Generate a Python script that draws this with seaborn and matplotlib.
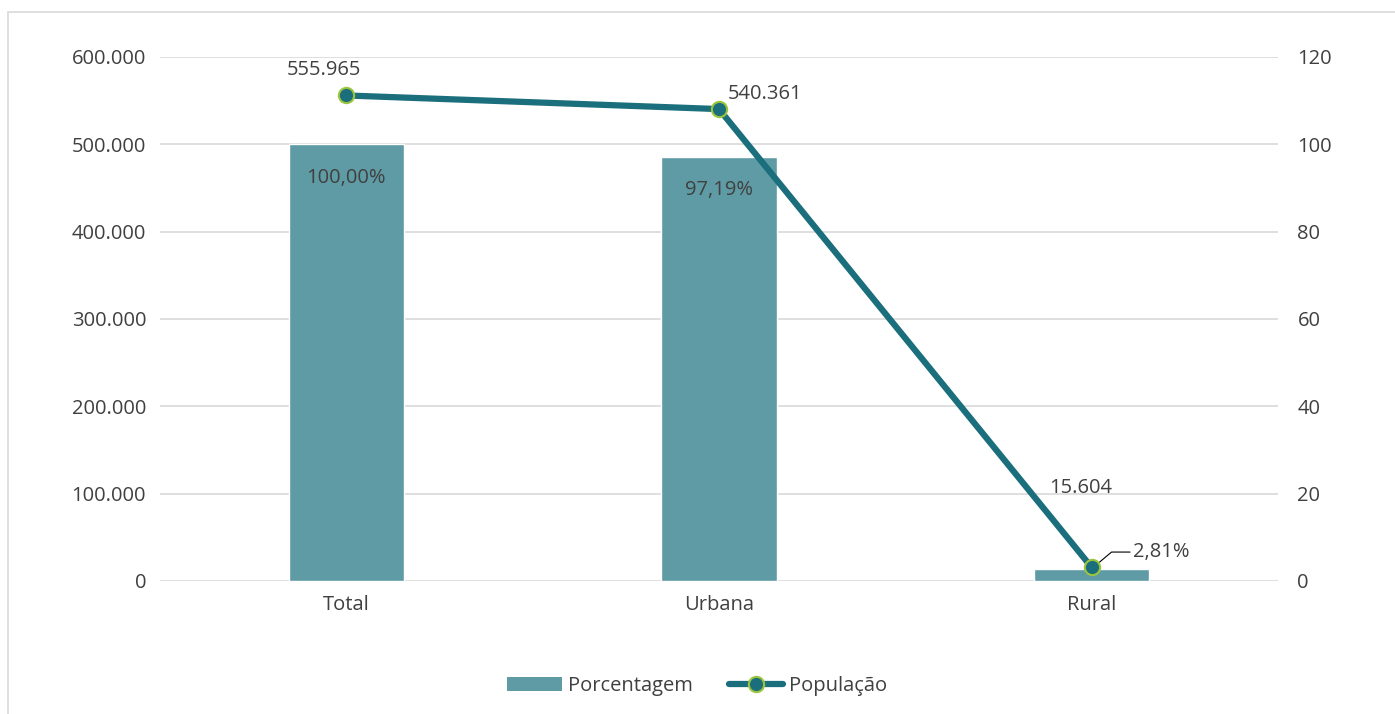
import matplotlib
matplotlib.use("Agg")
import matplotlib.pyplot as plt
import matplotlib.ticker as mticker
from matplotlib.lines import Line2D
from matplotlib.patches import Patch, Rectangle
import seaborn as sns
import pandas as pd

categorias = ["Total", "Urbana", "Rural"]
populacao = [555965, 540361, 15604]
porcentagem = [100.00, 97.19, 2.81]
rotulos_pop = ["555.965", "540.361", "15.604"]
rotulos_pct = ["100,00%", "97,19%", "2,81%"]

cor_barra = "#5F9BA4"
cor_linha = "#1B6E7B"
cor_texto = "#404040"
fs = 14.5

df = pd.DataFrame({"categoria": categorias, "populacao": populacao, "porcentagem": porcentagem})

sns.set_style("white")
plt.rcParams['font.family'] = ['Open Sans', 'DejaVu Sans']

fig = plt.figure(figsize=(13.95, 7.14), dpi=100)
ax = fig.add_axes([160/1395, 1-581/714, 1118/1395, 524/714])
ax2 = ax.twinx()

# bars (percent) on the right axis, with the grid behind them
sns.barplot(data=df, x="categoria", y="porcentagem", color=cor_barra, width=0.31,
            saturation=1, ax=ax2)
ax2.set_ylim(0, 120)
ax2.set_yticks(range(0, 121, 20))
ax2.grid(axis="y", color="#D9D9D9", linewidth=1.2)
ax2.set_axisbelow(True)

# line (population) on the left axis
x_pos = list(range(len(categorias)))
sns.lineplot(x=x_pos, y=df["populacao"], color=cor_linha, linewidth=4.5, marker="o",
             markersize=11, markerfacecolor=cor_linha, markeredgecolor="#9BC53D",
             markeredgewidth=1.5, ax=ax)
ax.set_ylim(0, 600000)
ax.set_xlim(-0.5, 2.5)
ax.set_yticks(range(0, 600001, 100000))
ax.yaxis.set_major_formatter(mticker.FuncFormatter(lambda v, p: f"{int(v):,}".replace(",", ".")))
ax.grid(False)

ax.set_zorder(ax2.get_zorder() + 1)
ax.patch.set_visible(False)

for a in (ax, ax2):
    for s in a.spines.values():
        s.set_visible(False)
    a.set_xlabel("")
    a.set_ylabel("")
    a.tick_params(axis="both", length=0, labelsize=fs, labelcolor=cor_texto, pad=10)

ax.set_xticks(x_pos)
ax.set_xticklabels(categorias)
ax2.tick_params(axis="y", pad=14)

# labels
ax.annotate(rotulos_pop[0], (0, populacao[0]), xytext=(-16, 11), textcoords="offset points",
            ha="center", va="bottom", fontsize=fs, color=cor_texto)
ax.annotate(rotulos_pop[1], (1, populacao[1]), xytext=(6, 4), textcoords="offset points",
            ha="left", va="bottom", fontsize=fs, color=cor_texto)
ax.annotate(rotulos_pop[2], (2, populacao[2]), xytext=(-8, 50), textcoords="offset points",
            ha="center", va="bottom", fontsize=fs, color=cor_texto)

ax2.annotate(rotulos_pct[0], (0, porcentagem[0]), xytext=(0, -17), textcoords="offset points",
             ha="center", va="top", fontsize=fs, color=cor_texto)
ax2.annotate(rotulos_pct[1], (1, porcentagem[1]), xytext=(0, -17), textcoords="offset points",
             ha="center", va="top", fontsize=fs, color=cor_texto)
ax2.annotate(rotulos_pct[2], (2, porcentagem[2]), xytext=(30, 12), textcoords="offset points",
             ha="left", va="center", fontsize=fs, color=cor_texto,
             arrowprops=dict(arrowstyle="-", color="black", lw=0.8,
                             connectionstyle="angle,angleA=0,angleB=40,rad=0",
                             shrinkA=0, shrinkB=0))

handles = [Patch(facecolor=cor_barra, edgecolor="none"),
           Line2D([0], [0], color=cor_linha, linewidth=4.5, marker="o", markersize=11,
                  markerfacecolor=cor_linha, markeredgecolor="#9BC53D", markeredgewidth=1.5)]
fig.legend(handles, ["Porcentagem", "População"], loc="center", bbox_to_anchor=(0.5, 1-686/714),
           ncol=2, frameon=False, fontsize=fs, labelcolor=cor_texto, handlelength=2.7,
           columnspacing=1.8, handletextpad=0.3)

fig.patches.append(Rectangle((8/1395, -0.1), 1.2, 1-12/714+0.1, transform=fig.transFigure,
                             fill=False, edgecolor="#D9D9D9", linewidth=1.2))

fig.savefig("out.png", dpi=100)
